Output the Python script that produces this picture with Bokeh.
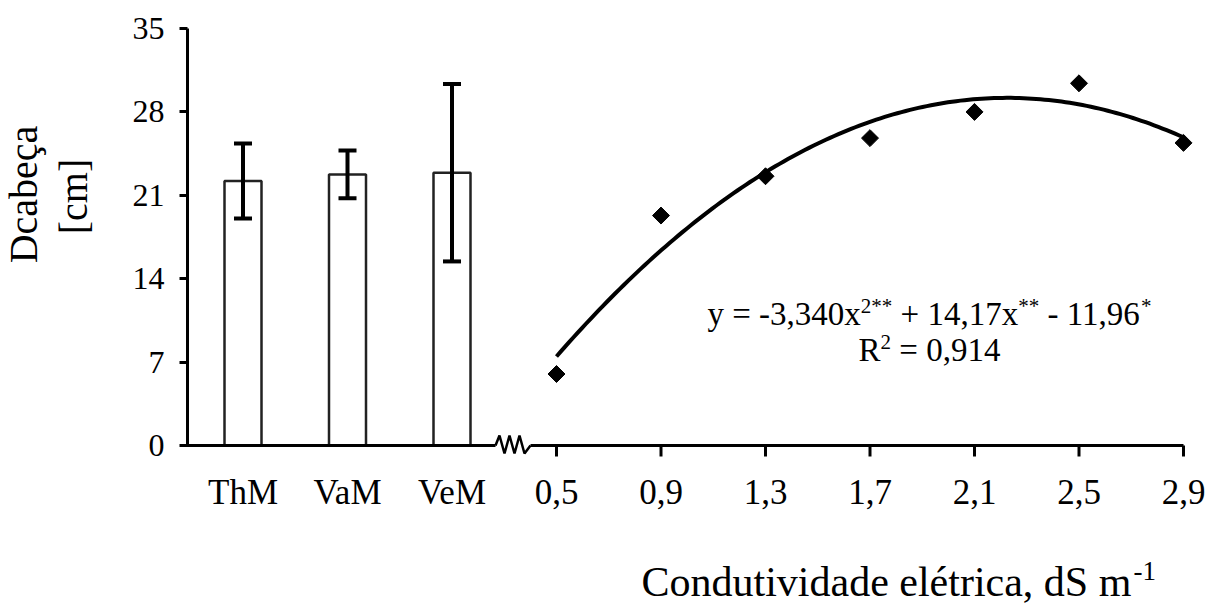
import numpy as np
from bokeh.plotting import figure
from bokeh.models import Range1d, FixedTicker, Label
from bokeh.embed import file_html
from bokeh.resources import INLINE

# ---------------- data ----------------
categories = ["ThM", "VaM", "VeM"]
bar_means = [22.2, 22.75, 22.9]
bar_errors = [3.15, 2.0, 7.45]

ec_values = [0.5, 0.9, 1.3, 1.7, 2.1, 2.5, 2.9]
ec_labels = ["0,5", "0,9", "1,3", "1,7", "2,1", "2,5", "2,9"]
d_values = [6.0, 19.3, 22.6, 25.8, 28.0, 30.4, 25.4]

y_ticks = [0, 7, 14, 21, 28, 35]

eq_line1 = [("y = -3,340x", False), ("2**", True), (" + 14,17x", False),
            ("**", True), (" - 11,96", False), ("*", True)]
eq_line2 = [("R", False), ("2", True), (" = 0,914", False)]
x_title = "Condutividade elétrica, dS m"
x_title_sup = "-1"
y_title = ["Dcabeça", "[cm]"]

# ---------------- layout constants ----------------
FONT = "Liberation Serif"
W, H = 1208, 610
AXIS_X_PX, AXIS_Y_PX = 187, 445     # y-axis column, x-axis row (px)
PX_Y = (445 - 28) / 35.0            # px per y unit
SLOT = 104.5                        # px per category slot
FIRST_PX = 556                      # px of first EC slot
BL = 0.39                           # label anchor -> baseline offset (em)


def dx(px):
    return (px - FIRST_PX) / SLOT


def dy(py):
    return (AXIS_Y_PX - py) / PX_Y


ec_step = ec_values[1] - ec_values[0]


def ec_slot(ec):
    return (np.asarray(ec, dtype=float) - ec_values[0]) / ec_step


bar_x = np.arange(len(categories)) - len(categories)   # -3, -2, -1
ec_x = ec_slot(ec_values)

p = figure(width=W, height=H, x_range=Range1d(dx(0), dx(W)),
           y_range=Range1d(dy(H), dy(0)),
           output_backend="svg", toolbar_location=None,
           min_border=0, min_border_left=0, min_border_right=0,
           min_border_top=0, min_border_bottom=0)
p.outline_line_color = None
p.grid.visible = False
p.background_fill_color = "white"
p.border_fill_color = "white"

# y axis
ya = p.yaxis[0]
ya.fixed_location = dx(AXIS_X_PX)
ya.ticker = FixedTicker(ticks=y_ticks)
ya.bounds = (y_ticks[0], y_ticks[-1])
ya.axis_line_width = 3
ya.axis_line_color = "black"
ya.major_tick_line_width = 3
ya.major_tick_line_color = "black"
ya.major_tick_out = 8
ya.major_tick_in = 0
ya.minor_tick_line_color = None
ya.major_label_text_font = FONT
ya.major_label_text_font_size = "32px"
ya.major_label_text_color = "black"
ya.major_label_standoff = 15

# x axis (labels only; line, ticks and break drawn below)
xa = p.xaxis[0]
xa.fixed_location = 0
tick_pos = list(bar_x.astype(float)) + list(ec_x)
xa.ticker = FixedTicker(ticks=tick_pos)
xa.major_label_overrides = {float(t): lab for t, lab in zip(tick_pos, categories + ec_labels)}
xa.axis_line_color = None
xa.major_tick_line_color = None
xa.major_tick_out = 0
xa.major_tick_in = 0
xa.minor_tick_line_color = None
xa.major_label_text_font = FONT
xa.major_label_text_font_size = "35px"
xa.major_label_text_color = "black"
xa.major_label_standoff = 27

# bars with error bars
p.vbar(x=bar_x, top=bar_means, bottom=0, width=37 / SLOT, fill_color="white",
       line_color="#222222", line_width=2.5)
lo = np.array(bar_means) - np.array(bar_errors)
hi = np.array(bar_means) + np.array(bar_errors)
cap = 9 / SLOT
p.segment(x0=bar_x, y0=lo, x1=bar_x, y1=hi, line_color="black", line_width=4)
p.segment(x0=np.concatenate([bar_x - cap, bar_x - cap]), y0=np.concatenate([lo, hi]),
          x1=np.concatenate([bar_x + cap, bar_x + cap]), y1=np.concatenate([lo, hi]),
          line_color="black", line_width=4)

# x axis line with break
brk_l, brk_r = dx(495), dx(530)
p.segment(x0=[dx(AXIS_X_PX - 1.5), brk_r], y0=[0, 0], x1=[brk_l, ec_x[-1]], y1=[0, 0],
          line_color="black", line_width=3)
zz_dx = np.array([0, 4, 9, 14, 19, 24, 29, 35]) / SLOT
zz_dy = np.array([0, 10, -8, 10, -8, 10, -8, 0]) / PX_Y
p.line(x=brk_l + zz_dx, y=zz_dy, line_color="black", line_width=2.5)
tick_len = 11 / PX_Y
p.segment(x0=ec_x, y0=np.zeros(len(ec_x)), x1=ec_x, y1=np.full(len(ec_x), -tick_len),
          line_color="black", line_width=3)

# quadratic trend line fitted to the points
coef = np.polyfit(ec_values, d_values, 2)
ec_fine = np.linspace(ec_values[0], ec_values[-1], 150)
p.line(x=ec_slot(ec_fine), y=np.polyval(coef, ec_fine), line_color="black",
       line_width=4, line_join="round")
p.scatter(x=ec_x, y=d_values, marker="square", angle=np.pi / 4, size=12,
          fill_color="black", line_color="black")

# ---------------- texts ----------------
ADV = {' ': 250, '=': 564, '-': 333, ',': 250, '+': 564, '*': 500, 'x': 500,
       'y': 500, 'R': 667, 'C': 667, 'o': 500, 'n': 500, 'd': 500, 'u': 500,
       't': 278, 'i': 278, 'v': 500, 'a': 444, 'e': 444, 'é': 444, 'l': 278,
       'r': 333, 'c': 444, 'S': 556, 'm': 778}
for ch in "0123456789":
    ADV[ch] = 500


def tw(s, size):
    return sum(ADV.get(c, 500) for c in s) / 1000.0 * size


def text_at(txt, left_px, base_px, size, angle=0.0, align="left"):
    """Place text so that its baseline sits at base_px (screen px)."""
    if angle:
        ax, ay = left_px - BL * size, base_px
    else:
        ax, ay = left_px, base_px - BL * size
    p.add_layout(Label(x=dx(ax), y=dy(ay), text=txt, text_font=FONT,
                       text_font_size=f"{size}px", text_color="black",
                       angle=angle, text_align=align, text_baseline="alphabetic"))


EQ_MAIN, EQ_SUP, EQ_RAISE = 33, 21, 12


def seg_width(segs):
    return sum(tw(t, EQ_SUP if sup else EQ_MAIN) for t, sup in segs)


def put_line(segs, left_px, base_px):
    x = left_px
    for t, sup in segs:
        size = EQ_SUP if sup else EQ_MAIN
        stripped = t.lstrip(" ")
        lead = tw(t[:len(t) - len(stripped)], size)
        text_at(stripped, x + lead, base_px - (EQ_RAISE if sup else 0), size)
        x += tw(t, size)


w1 = seg_width(eq_line1)
w2 = seg_width(eq_line2)
left1 = 707
center = left1 + w1 / 2
put_line(eq_line1, left1, 326)
put_line(eq_line2, center - w2 / 2, 362)

# x title
XT_SIZE, XT_SUP = 42, 27
xt_left, xt_base = 641, 598
text_at(x_title, xt_left, xt_base, XT_SIZE)
text_at(x_title_sup, xt_left + tw(x_title, XT_SIZE) + 2, xt_base - 17, XT_SUP)

# y title (two rotated lines): baseline x, centre y
for txt, bx, cy in zip(y_title, [38.5, 89], [194, 196]):
    # for rotated text the baseline offset acts along +x
    p.add_layout(Label(x=dx(bx - BL * 40), y=dy(cy), text=txt, text_font=FONT,
                       text_font_size="40px", text_color="black", angle=np.pi / 2,
                       text_align="center", text_baseline="alphabetic"))

open("out.html", "w").write(file_html(p, INLINE))
